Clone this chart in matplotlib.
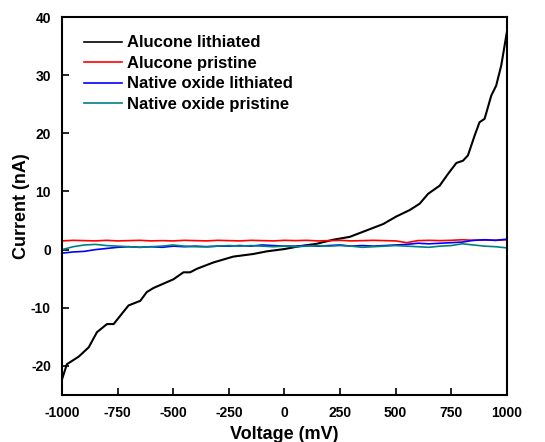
import numpy as np
import matplotlib.pyplot as plt

plt.rcParams['font.family'] = ['Liberation Sans', 'DejaVu Sans']
plt.rcParams['font.weight'] = 'bold'
plt.rcParams['axes.unicode_minus'] = False

# Alucone lithiated
v_black = [-1000, -978, -925, -880, -843, -798, -768, -701, -648, -619, -589,
           -499, -454, -424, -394, -319, -230, -140, -80, 0, 70, 144, 219, 294,
           369, 444, 503, 563, 608, 646, 698, 735, 773, 803, 825, 855, 877, 900,
           930, 952, 975, 1000]
i_black = [-22.3, -19.7, -18.4, -16.8, -14.2, -12.8, -12.8, -9.6, -8.8, -7.3,
           -6.6, -5.1, -3.9, -3.9, -3.3, -2.2, -1.2, -0.75, -0.3, 0.1, 0.6, 1.0,
           1.7, 2.2, 3.3, 4.4, 5.7, 6.8, 7.9, 9.6, 11.0, 13.0, 14.9, 15.3, 16.2,
           19.6, 21.9, 22.5, 26.5, 28.2, 31.7, 37.4]

v_flat = list(range(-1000, 1001, 50))
i_red = [1.5, 1.6, 1.55, 1.5, 1.6, 1.5, 1.55, 1.6, 1.5, 1.55, 1.5, 1.6, 1.55,
         1.5, 1.6, 1.55, 1.5, 1.6, 1.55, 1.5, 1.6, 1.55, 1.6, 1.5, 1.55, 1.6,
         1.5, 1.55, 1.6, 1.55, 1.5, 1.2, 1.55, 1.6, 1.55, 1.6, 1.7, 1.6, 1.65,
         1.6, 1.7]
i_blue = [-0.6, -0.4, -0.3, 0.0, 0.2, 0.4, 0.5, 0.4, 0.5, 0.4, 0.6, 0.5, 0.6,
          0.5, 0.6, 0.6, 0.7, 0.6, 0.8, 0.7, 0.6, 0.6, 0.7, 0.6, 0.7, 0.8, 0.6,
          0.7, 0.6, 0.7, 0.8, 0.9, 1.1, 1.0, 1.1, 1.2, 1.3, 1.6, 1.7, 1.6, 1.8]
i_teal = [0.0, 0.5, 0.8, 0.9, 0.7, 0.6, 0.5, 0.4, 0.5, 0.6, 0.8, 0.6, 0.5,
          0.5, 0.6, 0.7, 0.6, 0.7, 0.6, 0.5, 0.6, 0.5, 0.6, 0.7, 0.6, 0.7, 0.6,
          0.4, 0.5, 0.6, 0.7, 0.6, 0.5, 0.4, 0.6, 0.7, 1.0, 0.8, 0.6, 0.5, 0.3]

fig = plt.figure(figsize=(5.45, 4.42), dpi=100)
ax = fig.add_axes([0.1138, 0.1063, 0.8162, 0.8552])

ax.plot(v_black, i_black, color='black', lw=1.5, label='Alucone lithiated')
ax.plot(v_flat, i_red, color='#ff0000', lw=1.2, label='Alucone pristine')
ax.plot(v_flat, i_blue, color='#0000ff', lw=1.2, label='Native oxide lithiated')
ax.plot(v_flat, i_teal, color='#008080', lw=1.2, label='Native oxide pristine')

ax.set_xlim(-1000, 1000)
ax.set_ylim(-25, 40)
ax.set_xticks(np.arange(-1000, 1001, 250))
ax.set_yticks([-20, -10, 0, 10, 20, 30, 40])
ax.tick_params(direction='in', length=5, width=1.2, labelsize=10, pad=8)
for lab in ax.get_xticklabels() + ax.get_yticklabels():
    lab.set_fontweight('bold')
for s in ax.spines.values():
    s.set_linewidth(1.5)

ax.set_xlabel('Voltage (mV)', fontsize=13, fontweight='bold', labelpad=4)
ax.set_ylabel('Current (nA)', fontsize=13, fontweight='bold', labelpad=1)

leg = ax.legend(loc='upper left', frameon=False, fontsize=12, handlelength=2.3,
                handletextpad=0.3, labelspacing=0.33, borderaxespad=0.0,
                bbox_to_anchor=(0.034, 0.969))
for h in leg.get_lines():
    h.set_linewidth(1.2)

fig.savefig('out.png', dpi=100)
